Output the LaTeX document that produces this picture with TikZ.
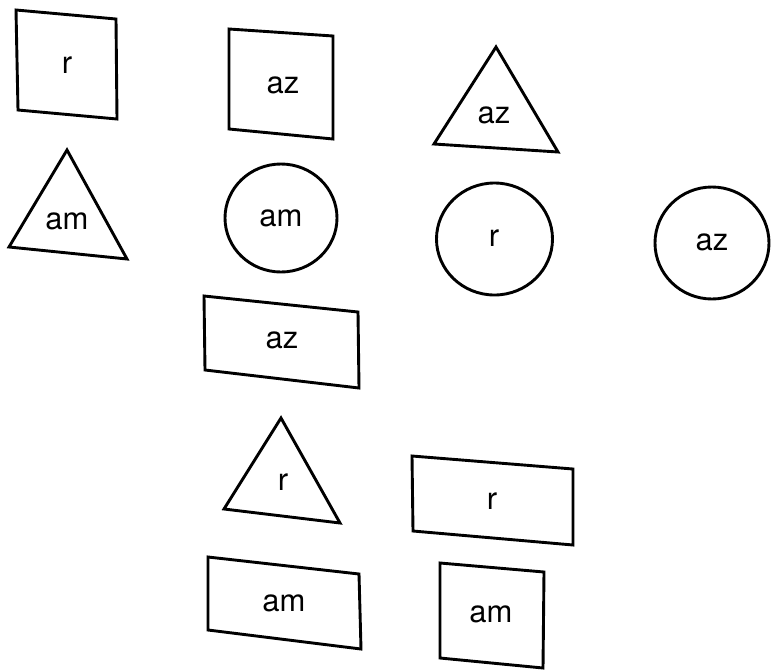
\documentclass[tikz,border=0pt]{standalone}
\usepackage{fontspec}
\setmainfont{TeX Gyre Heros}
\begin{document}
\begin{tikzpicture}[x=1pt,y=-1pt,
  outline/.style={draw=black,line width=2.9pt,line join=miter},
  lbl/.style={font=\fontsize{31}{37}\selectfont,inner sep=0pt}]
\useasboundingbox (0,0) rectangle (771,670);

% square "r"
\draw[outline] (16,10) -- (116,19) -- (117,119) -- (18,110) -- cycle;
\node[lbl] (sqR) at (67,65) {r};

% square "az"
\draw[outline] (229,29) -- (333,36) -- (333,139) -- (229,129) -- cycle;
\node[lbl] (sqAz) at (283,85) {az};

% triangle "az"
\draw[outline] (496,47) -- (558,152) -- (434,144) -- cycle;
\node[lbl] (triAz) at (494,115) {az};

% triangle "am"
\draw[outline] (67,150) -- (127,259) -- (9,247) -- cycle;
\node[lbl] (triAm) at (67,221) {am};

% circle "am"
\draw[outline] (281,218) ellipse [x radius=56,y radius=54];
\node[lbl] (cirAm) at (281,218) {am};

% circle "r"
\draw[outline] (494.5,239) ellipse [x radius=58,y radius=56];
\node[lbl] (cirR) at (494,238) {r};

% circle "az"
\draw[outline] (712,243) ellipse [x radius=57,y radius=56];
\node[lbl] (cirAz) at (712,242) {az};

% rectangle "az"
\draw[outline] (204,296) -- (358,312) -- (359,388) -- (205,370) -- cycle;
\node[lbl] (recAz) at (282,340) {az};

% triangle "r"
\draw[outline] (281,418) -- (340,523) -- (224,509) -- cycle;
\node[lbl] (triR) at (283,482) {r};

% rectangle "r"
\draw[outline] (412,456) -- (573,469) -- (573,545) -- (413,531) -- cycle;
\node[lbl] (recR) at (492,501) {r};

% rectangle "am"
\draw[outline] (208,557) -- (359,574) -- (361,649) -- (208,630) -- cycle;
\node[lbl] (recAm) at (284,603) {am};

% square "am"
\draw[outline] (440,563) -- (544,572) -- (543,668) -- (440,658) -- cycle;
\node[lbl] (sqAm) at (491,614) {am};
\end{tikzpicture}
\end{document}
